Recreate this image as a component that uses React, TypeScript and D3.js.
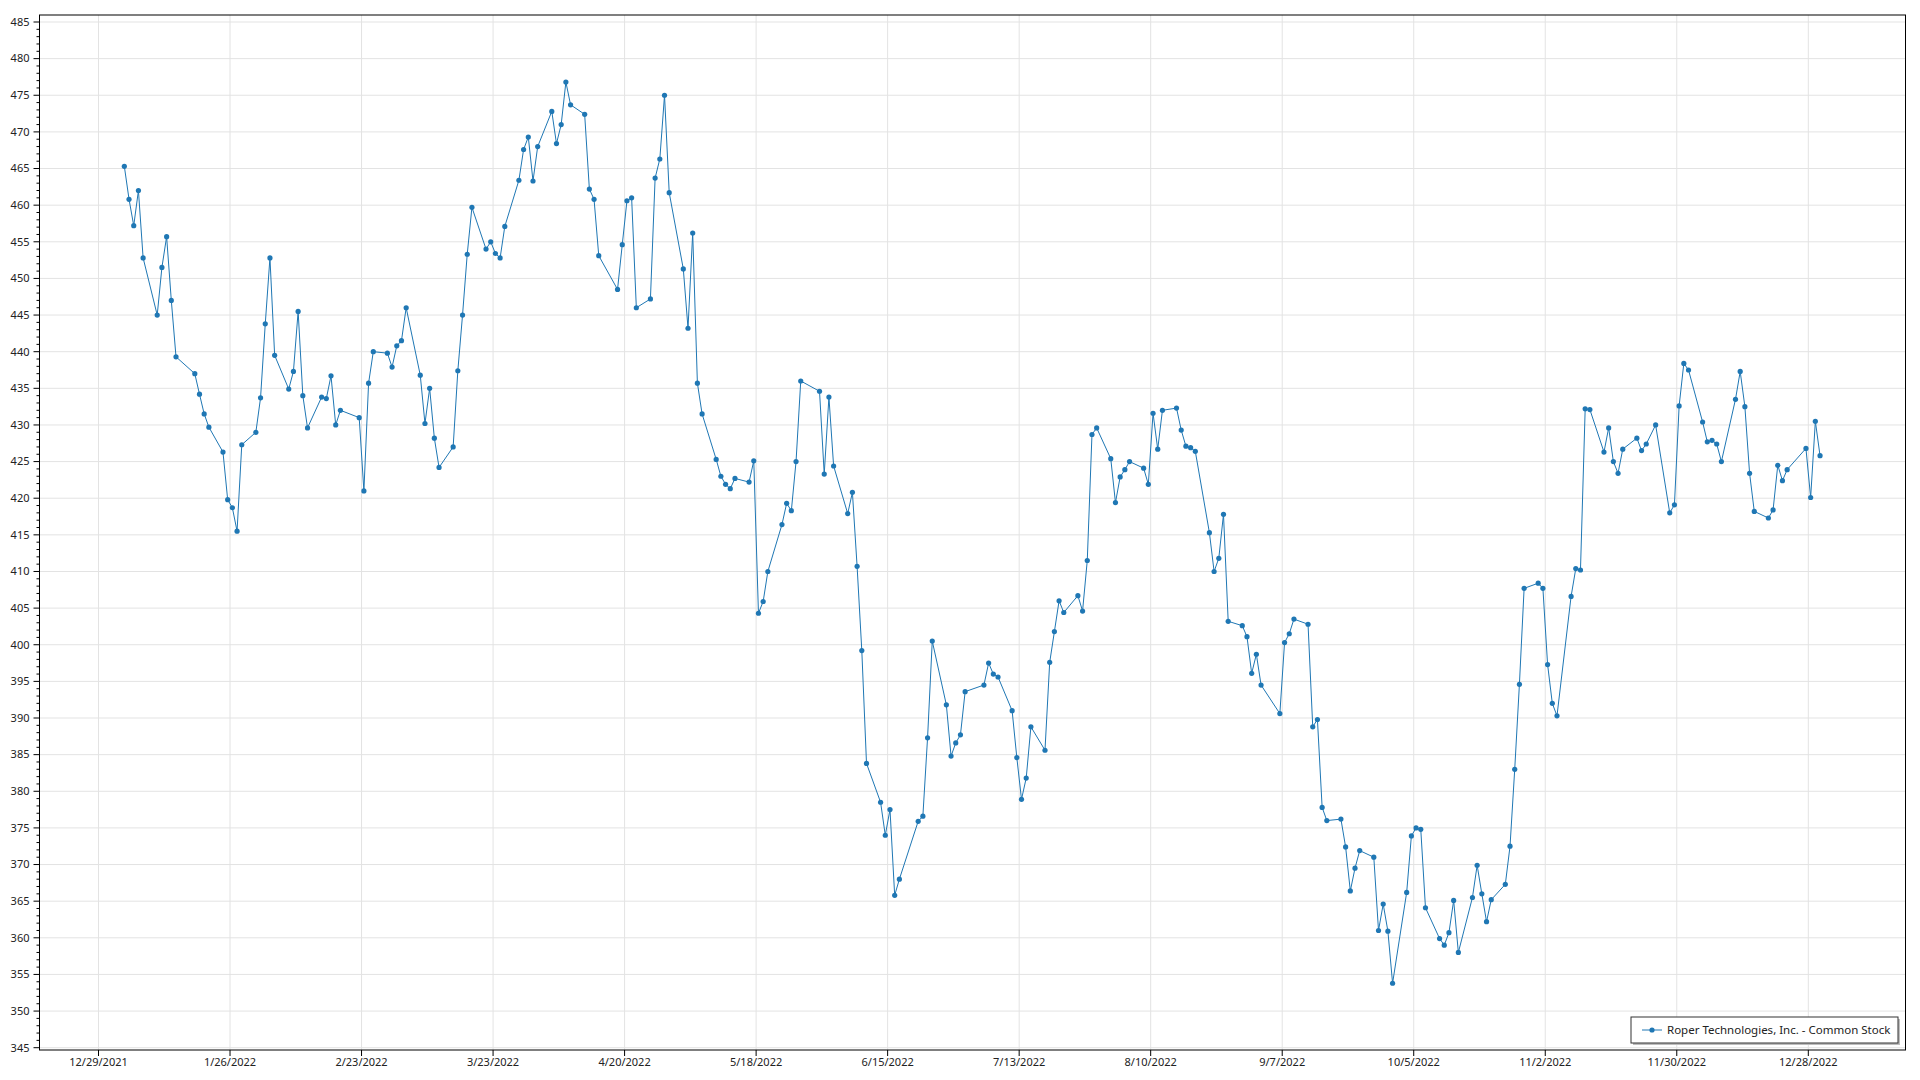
import React from 'react';
import * as d3 from 'd3';

// trading days of 2022 and the close of each day
const tradingDays = [
  '2022-01-03','2022-01-04','2022-01-05','2022-01-06','2022-01-07','2022-01-10','2022-01-11','2022-01-12','2022-01-13','2022-01-14',
  '2022-01-18','2022-01-19','2022-01-20','2022-01-21','2022-01-24','2022-01-25','2022-01-26','2022-01-27','2022-01-28','2022-01-31',
  '2022-02-01','2022-02-02','2022-02-03','2022-02-04','2022-02-07','2022-02-08','2022-02-09','2022-02-10','2022-02-11','2022-02-14',
  '2022-02-15','2022-02-16','2022-02-17','2022-02-18','2022-02-22','2022-02-23','2022-02-24','2022-02-25','2022-02-28',
  '2022-03-01','2022-03-02','2022-03-03','2022-03-04','2022-03-07','2022-03-08','2022-03-09','2022-03-10','2022-03-11','2022-03-14',
  '2022-03-15','2022-03-16','2022-03-17','2022-03-18','2022-03-21','2022-03-22','2022-03-23','2022-03-24','2022-03-25','2022-03-28',
  '2022-03-29','2022-03-30','2022-03-31',
  '2022-04-01','2022-04-04','2022-04-05','2022-04-06','2022-04-07','2022-04-08','2022-04-11','2022-04-12','2022-04-13','2022-04-14',
  '2022-04-18','2022-04-19','2022-04-20','2022-04-21','2022-04-22','2022-04-25','2022-04-26','2022-04-27','2022-04-28','2022-04-29',
  '2022-05-02','2022-05-03','2022-05-04','2022-05-05','2022-05-06','2022-05-09','2022-05-10','2022-05-11','2022-05-12','2022-05-13',
  '2022-05-16','2022-05-17','2022-05-18','2022-05-19','2022-05-20','2022-05-23','2022-05-24','2022-05-25','2022-05-26','2022-05-27',
  '2022-05-31',
  '2022-06-01','2022-06-02','2022-06-03','2022-06-06','2022-06-07','2022-06-08','2022-06-09','2022-06-10','2022-06-13','2022-06-14',
  '2022-06-15','2022-06-16','2022-06-17','2022-06-21','2022-06-22','2022-06-23','2022-06-24','2022-06-27','2022-06-28','2022-06-29',
  '2022-06-30',
  '2022-07-01','2022-07-05','2022-07-06','2022-07-07','2022-07-08','2022-07-11','2022-07-12','2022-07-13','2022-07-14','2022-07-15',
  '2022-07-18','2022-07-19','2022-07-20','2022-07-21','2022-07-22','2022-07-25','2022-07-26','2022-07-27','2022-07-28','2022-07-29',
  '2022-08-01','2022-08-02','2022-08-03','2022-08-04','2022-08-05','2022-08-08','2022-08-09','2022-08-10','2022-08-11','2022-08-12',
  '2022-08-15','2022-08-16','2022-08-17','2022-08-18','2022-08-19','2022-08-22','2022-08-23','2022-08-24','2022-08-25','2022-08-26',
  '2022-08-29','2022-08-30','2022-08-31',
  '2022-09-01','2022-09-02','2022-09-06','2022-09-07','2022-09-08','2022-09-09','2022-09-12','2022-09-13','2022-09-14','2022-09-15',
  '2022-09-16','2022-09-19','2022-09-20','2022-09-21','2022-09-22','2022-09-23','2022-09-26','2022-09-27','2022-09-28','2022-09-29',
  '2022-09-30',
  '2022-10-03','2022-10-04','2022-10-05','2022-10-06','2022-10-07','2022-10-10','2022-10-11','2022-10-12','2022-10-13','2022-10-14',
  '2022-10-17','2022-10-18','2022-10-19','2022-10-20','2022-10-21','2022-10-24','2022-10-25','2022-10-26','2022-10-27','2022-10-28',
  '2022-10-31',
  '2022-11-01','2022-11-02','2022-11-03','2022-11-04','2022-11-07','2022-11-08','2022-11-09','2022-11-10','2022-11-11','2022-11-14',
  '2022-11-15','2022-11-16','2022-11-17','2022-11-18','2022-11-21','2022-11-22','2022-11-23','2022-11-25','2022-11-28','2022-11-29',
  '2022-11-30',
  '2022-12-01','2022-12-02','2022-12-05','2022-12-06','2022-12-07','2022-12-08','2022-12-09','2022-12-12','2022-12-13','2022-12-14',
  '2022-12-15','2022-12-16','2022-12-19','2022-12-20','2022-12-21','2022-12-22','2022-12-23','2022-12-27','2022-12-28','2022-12-29',
  '2022-12-30',
];

const closePrices = [
  465.3, 460.8, 457.2, 462.0, 452.8, 445.0, 451.5, 455.7, 447.0, 439.3,
  437.0, 434.2, 431.5, 429.7, 426.3, 419.8, 418.7, 415.5, 427.3, 429.0,
  433.7, 443.8, 452.8, 439.5, 434.9, 437.3, 445.5, 434.0, 429.6, 433.8,
  433.6, 436.7, 430.0, 432.0, 431.0, 421.0, 435.7, 440.0, 439.8,
  437.9, 440.8, 441.5, 446.0, 436.8, 430.2, 435.0, 428.2, 424.2, 427.0,
  437.4, 445.0, 453.3, 459.7, 454.0, 455.0, 453.4, 452.8, 457.1, 463.4,
  467.6, 469.3, 463.3,
  468.0, 472.8, 468.4, 471.0, 476.8, 473.7, 472.4, 462.2, 460.8, 453.1,
  448.5, 454.6, 460.6, 461.0, 446.0, 447.2, 463.7, 466.3, 475.0, 461.7,
  451.3, 443.2, 456.2, 435.7, 431.5, 425.3, 423.0, 421.9, 421.3, 422.7,
  422.2, 425.1, 404.3, 405.9, 410.0, 416.4, 419.3, 418.3, 425.0, 436.0,
  434.6,
  423.3, 433.8, 424.4, 417.9, 420.8, 410.7, 399.2, 383.8, 378.5, 374.0,
  377.5, 365.8, 368.0, 375.9, 376.6, 387.3, 400.5, 391.8, 384.8, 386.6,
  387.7,
  393.6, 394.5, 397.5, 396.0, 395.6, 391.0, 384.6, 378.9, 381.8, 388.8,
  385.6, 397.6, 401.8, 406.0, 404.4, 406.7, 404.6, 411.5, 428.7, 429.6,
  425.4, 419.4, 422.9, 423.9, 425.0, 424.1, 421.9, 431.6, 426.7, 432.0,
  432.3, 429.3, 427.1, 426.9, 426.4, 415.3, 410.0, 411.8, 417.8, 403.2,
  402.6, 401.1, 396.1,
  398.7, 394.5, 390.6, 400.3, 401.5, 403.5, 402.8, 388.8, 389.8, 377.8,
  376.0, 376.2, 372.4, 366.4, 369.5, 371.9, 371.0, 361.0, 364.6, 360.9,
  353.8,
  366.2, 373.9, 375.0, 374.8, 364.1, 359.9, 359.0, 360.7, 365.1, 358.0,
  365.5, 369.9, 366.0, 362.2, 365.2, 367.3, 372.5, 383.0, 394.6, 407.7,
  408.4,
  407.7, 397.3, 392.0, 390.3, 406.6, 410.4, 410.2, 432.2, 432.1, 426.3,
  429.6, 425.0, 423.4, 426.7, 428.2, 426.5, 427.4, 430.0, 418.0, 419.1,
  432.6,
  438.4, 437.5, 430.4, 427.7, 427.9, 427.4, 425.0, 433.5, 437.3, 432.5,
  423.4, 418.2, 417.3, 418.4, 424.5, 422.4, 423.9, 426.8, 420.1, 430.5,
  425.8,
];

const xTickDates = [
  '2021-12-29','2022-01-26','2022-02-23','2022-03-23','2022-04-20','2022-05-18','2022-06-15',
  '2022-07-13','2022-08-10','2022-09-07','2022-10-05','2022-11-02','2022-11-30','2022-12-28',
];
const yMajorTicks = d3.range(345, 486, 5);
const yMinorTicks = d3.range(345, 486, 1);
const seriesName = 'Roper Technologies, Inc. - Common Stock';

const W = 1920;
const H = 1080;
const plot = { left: 39.5, top: 15, right: 1905.5, bottom: 1050 };
const FONT = '"Noto Sans", "Open Sans", sans-serif';
const BLUE = '#1f77b4';

const parse = d3.utcParse('%Y-%m-%d');
// the closes are plotted at midday of each session
const parseSession = d3.utcParse('%Y-%m-%d %H');

const App: React.FC = () => {
  const tickDates = xTickDates.map(d => parse(d)!);
  const x = d3.scaleUtc()
    .domain([parse('2021-12-29')!, parse('2022-12-28')!])
    .range([98.5, 1808.3]);
  const y = d3.scaleLinear().domain([345, 485]).range([1047.7, 22]);

  const points = tradingDays.map((d, i) => ({ date: parseSession(d + ' 12')!, value: closePrices[i] }));
  const line = d3.line<{ date: Date; value: number }>()
    .x(d => x(d.date))
    .y(d => y(d.value));

  const fmt = d3.utcFormat('%-m/%-d/%Y');
  const legend = { x: 1631, y: 1017, w: 267, h: 26 };

  return (
    <svg width={W} height={H} style={{ position: 'absolute', left: 0, top: 0, background: '#fff' }}
      fontFamily={FONT}>
      <rect x={0} y={0} width={W} height={H} fill="#fff" />
      {/* grid */}
      {yMajorTicks.map(t => (
        <line key={'gy' + t} x1={plot.left} x2={plot.right} y1={y(t)} y2={y(t)} stroke="#e3e3e3" strokeWidth={1} />
      ))}
      {tickDates.map((d, i) => (
        <line key={'gx' + i} x1={x(d)} x2={x(d)} y1={plot.top} y2={plot.bottom} stroke="#e3e3e3" strokeWidth={1} />
      ))}

      {/* frame */}
      <rect x={plot.left} y={plot.top} width={plot.right - plot.left} height={plot.bottom - plot.top}
        fill="none" stroke="#000" strokeWidth={1} />

      {/* y axis */}
      {yMinorTicks.map(t => (
        <line key={'ym' + t} x1={plot.left - (t % 5 === 0 ? 6 : 3)} x2={plot.left} y1={y(t)} y2={y(t)} stroke="#000" strokeWidth={1} />
      ))}
      {yMajorTicks.map(t => (
        <text key={'yl' + t} x={plot.left - 10} y={y(t)} dy="0.35em" textAnchor="end" fontSize={11} fill="#222">{t}</text>
      ))}

      {/* x axis */}
      {tickDates.map((d, i) => (
        <g key={'xt' + i}>
          <line x1={x(d)} x2={x(d)} y1={plot.bottom} y2={plot.bottom + 6} stroke="#000" strokeWidth={1} />
          <text x={x(d)} y={plot.bottom + 8} dy="0.71em" textAnchor="middle" fontSize={11} fill="#222">{fmt(d)}</text>
        </g>
      ))}

      {/* series */}
      <path d={line(points) ?? ''} fill="none" stroke={BLUE} strokeWidth={1} />
      {points.map((p, i) => (
        <circle key={'p' + i} cx={x(p.date)} cy={y(p.value)} r={2.6} fill={BLUE} />
      ))}

      {/* legend */}
      <rect x={legend.x + 2} y={legend.y + 2} width={legend.w} height={legend.h} fill="#bdbdbd" />
      <rect x={legend.x} y={legend.y} width={legend.w} height={legend.h} fill="#fff" stroke="#333" strokeWidth={1} />
      <line x1={legend.x + 11} x2={legend.x + 31} y1={legend.y + legend.h / 2} y2={legend.y + legend.h / 2} stroke={BLUE} strokeWidth={1} />
      <circle cx={legend.x + 21} cy={legend.y + legend.h / 2} r={2.6} fill={BLUE} />
      <text x={legend.x + 36} y={legend.y + legend.h / 2} dy="0.35em" fontSize={11.5} fill="#222">{seriesName}</text>
    </svg>
  );
};

export default App;
